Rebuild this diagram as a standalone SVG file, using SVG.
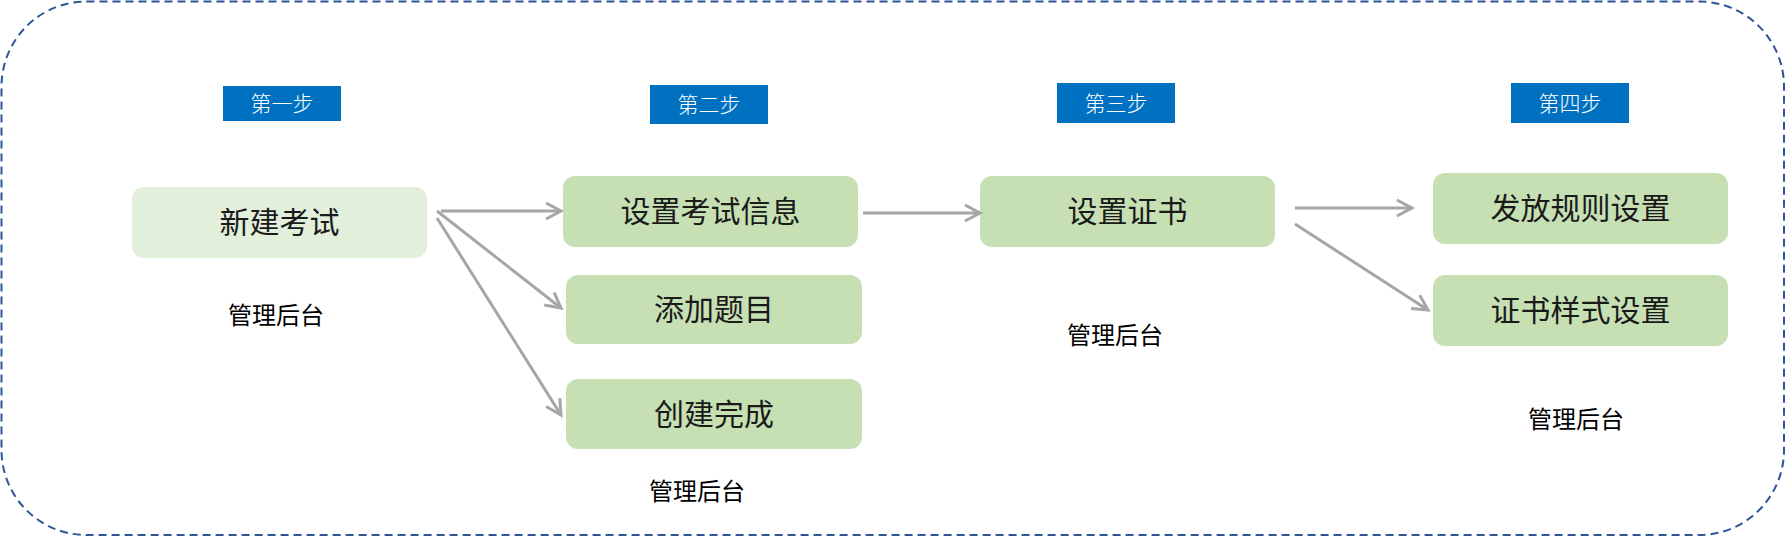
<svg xmlns="http://www.w3.org/2000/svg" width="1786" height="551" viewBox="0 0 1786 551">
<defs>
<style>
.step rect{fill:#0070C0}
.step text{fill:#ffffff;font-family:"Liberation Sans","Noto Sans CJK SC",sans-serif;font-size:21px;font-weight:300;text-anchor:middle;dominant-baseline:central}
.node rect{fill:#C6E0B4}
.node.light rect{fill:#E2EFDA}
.node text{fill:#1a1a1a;font-family:"Liberation Sans","Noto Sans CJK SC",sans-serif;font-size:30px;font-weight:400;text-anchor:middle;dominant-baseline:central}
.note{fill:#000000;font-family:"Liberation Sans","Noto Sans CJK SC",sans-serif;font-size:24px;font-weight:400;text-anchor:middle}
.conn line{stroke:#A6A6A6;stroke-width:3;fill:none;marker-end:url(#arr)}
</style>
<marker id="arr" markerUnits="userSpaceOnUse" markerWidth="20" markerHeight="20" refX="16" refY="10" orient="auto" viewBox="0 0 20 20">
<path d="M1,2 L16,10 L1,18" fill="none" stroke="#A6A6A6" stroke-width="3"/>
</marker>
</defs>
<rect width="1786" height="551" fill="#ffffff"/>
<rect id="frame" x="1.5" y="1.5" width="1782.5" height="533.5" rx="85" ry="85" fill="none" stroke="#2F5597" stroke-width="2" stroke-dasharray="8 5"/>

<g id="step1" class="step"><rect x="223" y="86" width="118" height="35"/><text x="282" y="103.5">第一步</text></g>
<g id="step2" class="step"><rect x="650" y="85" width="118" height="39"/><text x="709" y="104.5">第二步</text></g>
<g id="step3" class="step"><rect x="1057" y="83" width="118" height="40"/><text x="1116" y="103">第三步</text></g>
<g id="step4" class="step"><rect x="1511" y="83" width="118" height="40"/><text x="1570" y="103">第四步</text></g>

<g id="n_new" class="node light"><rect x="132" y="187" width="295" height="71" rx="12"/><text x="279.5" y="222.5">新建考试</text></g>
<g id="n_info" class="node"><rect x="563" y="176" width="295" height="71" rx="12"/><text x="710.5" y="211.5">设置考试信息</text></g>
<g id="n_add" class="node"><rect x="566" y="275" width="296" height="69" rx="12"/><text x="714" y="309.5">添加题目</text></g>
<g id="n_done" class="node"><rect x="566" y="379" width="296" height="70" rx="12"/><text x="714" y="414">创建完成</text></g>
<g id="n_cert" class="node"><rect x="980" y="176" width="295" height="71" rx="12"/><text x="1127.5" y="211.5">设置证书</text></g>
<g id="n_rule" class="node"><rect x="1433" y="173" width="295" height="71" rx="12"/><text x="1580.5" y="208.5">发放规则设置</text></g>
<g id="n_style" class="node"><rect x="1433" y="275" width="295" height="71" rx="12"/><text x="1580.5" y="310.5">证书样式设置</text></g>

<g id="notes">
<text class="note" x="276" y="324">管理后台</text>
<text class="note" x="697" y="500">管理后台</text>
<text class="note" x="1115" y="344">管理后台</text>
<text class="note" x="1576" y="428">管理后台</text>
</g>

<g id="connectors" class="conn">
<line x1="441" y1="211" x2="561" y2="211"/>
<line x1="437" y1="211" x2="561" y2="308"/>
<line x1="437" y1="218" x2="561" y2="415"/>
<line x1="863" y1="213" x2="980" y2="213"/>
<line x1="1295" y1="208" x2="1412" y2="208"/>
<line x1="1295" y1="224" x2="1428" y2="310"/>
</g>
</svg>
